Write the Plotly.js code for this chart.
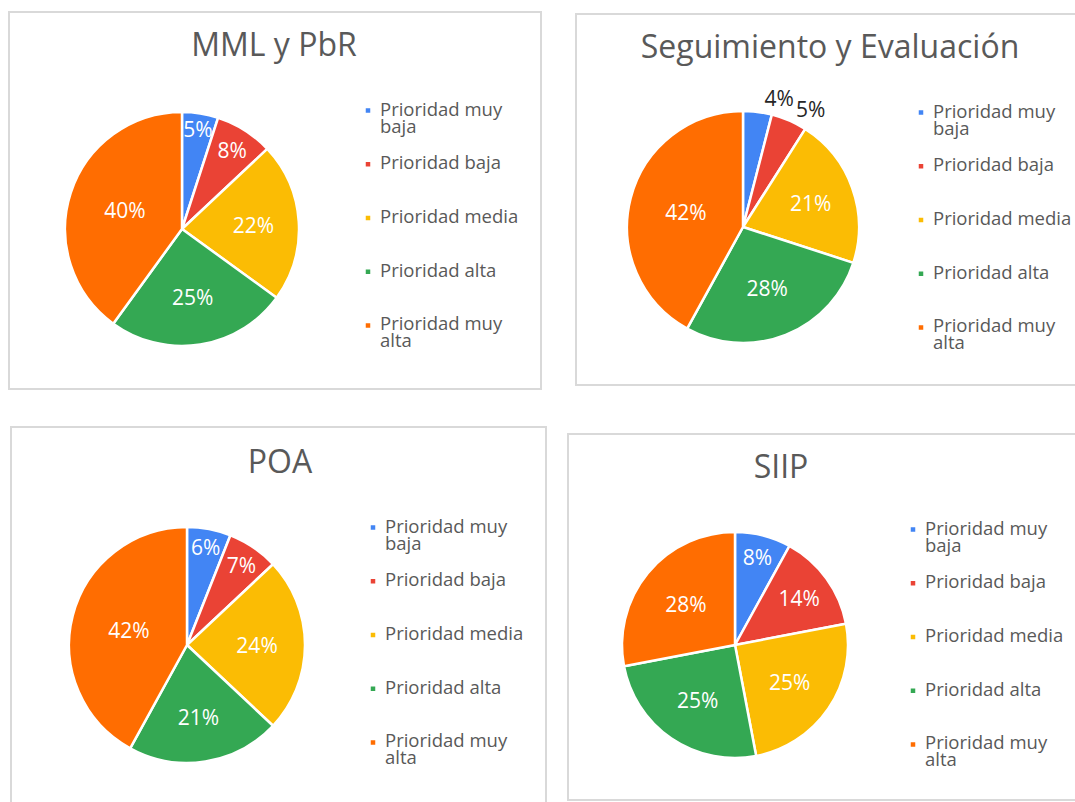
<!DOCTYPE html>
<html>
<head>
<meta charset="utf-8">
<script src="https://cdn.plot.ly/plotly-3.0.1.min.js"></script>
<style>
  html, body { margin: 0; padding: 0; background: #ffffff; }
  body { width: 1075px; height: 802px; overflow: hidden; position: relative; }
  .panel { position: absolute; }
  .frame { position: absolute; border: 2px solid #d9d9d9; box-sizing: border-box; pointer-events: none; }
</style>
</head>
<body>
<script>
// ---------- DATA ----------
const categories = ["Prioridad muy baja", "Prioridad baja", "Prioridad media", "Prioridad alta", "Prioridad muy alta"];
const legendLines = [["Prioridad muy", "baja"], ["Prioridad baja"], ["Prioridad media"], ["Prioridad alta"], ["Prioridad muy", "alta"]];
const titles = ["MML y PbR", "Seguimiento y Evaluación", "POA", "SIIP"];
const mmlValues = [5, 8, 22, 25, 40];
const segValues = [4, 5, 21, 28, 42];
const poaValues = [6, 7, 24, 21, 42];
const siipValues = [8, 14, 25, 25, 28];
const seriesValues = [mmlValues, segValues, poaValues, siipValues];

// ---------- STYLE / LAYOUT ----------
const colors = ["#4285F4", "#EA4335", "#FBBC04", "#34A853", "#FF6D01"];
const FONT = "Open Sans, Liberation Sans, sans-serif";
const TEXT_GREY = "#595959";
// box: [left, top, width, height]; pie: [cx, cy, r]; title: [cx, cy]; legend: [textLeft, firstLineY]
const panels = [
  { box: [8, 11, 534, 379],  pie: [182, 229, 117], title: [274, 45],  legend: [380, 109] },
  { box: [575, 13, 510, 373], pie: [743, 227, 116], title: [830, 47],  legend: [933, 111] },
  { box: [10, 426, 537, 390], pie: [187, 645, 118], title: [280, 462], legend: [385, 526] },
  { box: [567, 433, 520, 368], pie: [735, 645, 113], title: [781, 467], legend: [925, 528] }
];
// main label layer, and an optional second label layer (so neighbouring outside labels are not pushed apart)
const textPositions = [
  ["inside", "inside", "inside", "inside", "inside"],
  ["outside", "none", "inside", "inside", "inside"],
  ["inside", "inside", "inside", "inside", "inside"],
  ["inside", "inside", "inside", "inside", "inside"]
];
const extraTextPositions = [
  null,
  ["none", "outside", "none", "none", "none"],
  null,
  null
];

const LABEL_SIZE = 21;
const LEG_FONT = 13;          // controls legend line spacing
const LEG_TEXT = 18.5;        // visible legend text size
const LEG_LINES = 3;          // lines per legend slot

function legendLabel(lines) {
  const parts = lines.map(l => '<span style="font-size:' + LEG_TEXT + 'px">' + l + '</span>');
  while (parts.length < LEG_LINES) parts.push('\u00a0');
  return parts.join('<br>');
}

panels.forEach((p, i) => {
  const [left, top, w, h] = p.box;
  const holder = document.createElement('div');
  holder.className = 'panel';
  holder.style.left = left + 'px';
  holder.style.top = top + 'px';
  holder.style.width = w + 'px';
  holder.style.height = h + 'px';
  document.body.appendChild(holder);
  const frame = document.createElement('div');
  frame.className = 'frame';
  frame.style.left = left + 'px';
  frame.style.top = top + 'px';
  frame.style.width = w + 'px';
  frame.style.height = h + 'px';
  document.body.appendChild(frame);

  const [cx, cy, r] = p.pie;
  const fx = v => (v - left) / w;
  const fy = v => (top + h - v) / h;
  const domain = { x: [fx(cx - r), fx(cx + r)], y: [fy(cy + r), fy(cy - r)] };

  const lineH = LEG_FONT * 1.3;
  const itemH = lineH * LEG_LINES + 3;
  const legendTop = p.legend[1] - (5 + itemH / 2 - 0.7 * lineH - 0.36 * LEG_TEXT);

  const traces = [{
    type: 'pie',
    labels: legendLines.map(legendLabel),
    values: seriesValues[i],
    sort: false,
    direction: 'clockwise',
    rotation: 0,
    marker: { colors: colors, line: { color: '#ffffff', width: 2.5 } },
    texttemplate: '%{percent:.0%}',
    textposition: textPositions[i],
    insidetextorientation: 'horizontal',
    insidetextfont: { family: FONT, size: LABEL_SIZE, color: '#ffffff' },
    outsidetextfont: { family: FONT, size: LABEL_SIZE, color: '#262626' },
    domain: domain,
    hoverinfo: 'none'
  }];
  if (extraTextPositions[i]) {
    traces.push({
      type: 'pie',
      labels: categories,
      values: seriesValues[i],
      sort: false,
      direction: 'clockwise',
      rotation: 0,
      showlegend: false,
      marker: { colors: colors.map(() => 'rgba(0,0,0,0)'), line: { width: 0 } },
      texttemplate: '%{percent:.0%}',
      textposition: extraTextPositions[i],
      outsidetextfont: { family: FONT, size: LABEL_SIZE, color: '#262626' },
      domain: domain,
      hoverinfo: 'none'
    });
  }

  const layout = {
    width: w, height: h,
    margin: { l: 0, r: 0, t: 0, b: 0, pad: 0 },
    paper_bgcolor: '#ffffff',
    font: { family: FONT, color: TEXT_GREY },
    title: {
      text: titles[i],
      font: { family: FONT, size: 32, color: TEXT_GREY },
      x: fx(p.title[0]), xanchor: 'center', xref: 'paper',
      y: fy(p.title[1]), yanchor: 'middle', yref: 'container'
    },
    showlegend: true,
    legend: {
      x: fx(p.legend[0] - 40), xanchor: 'left',
      y: fy(legendTop), yanchor: 'top',
      valign: 'top',
      bgcolor: 'rgba(0,0,0,0)',
      font: { family: FONT, size: LEG_FONT, color: TEXT_GREY },
      traceorder: 'normal'
    },
    uniformtext: { mode: 'show', minsize: LABEL_SIZE }
  };

  Plotly.newPlot(holder, traces, layout, { staticPlot: true, displayModeBar: false }).then(gd => {
    // smaller legend swatches placed close to the text, as in the original
    gd.querySelectorAll('path.legendpie').forEach(el => {
      el.setAttribute('d', 'M3.5,3.5H-3.5V-3.5H3.5Z');
      el.setAttribute('transform', 'translate(28,0)');
    });
  });
});
</script>
</body>
</html>
